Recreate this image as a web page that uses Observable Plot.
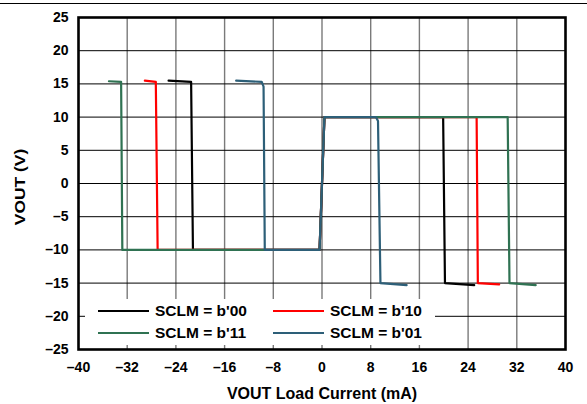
<!DOCTYPE html>
<html>
<head>
<meta charset="utf-8">
<script src="https://cdn.jsdelivr.net/npm/d3@7"></script>
<script src="https://cdn.jsdelivr.net/npm/@observablehq/plot@0.6"></script>
<style>
  html, body { margin: 0; padding: 0; background: #fff; }
  #wrap { position: relative; width: 587px; height: 404px; overflow: hidden; font-family: "Liberation Sans", Arial, sans-serif; }
  #toprule { position: absolute; left: 0; top: 2.5px; width: 587px; height: 1.5px; background: #000; }
  #ytitle { position: absolute; left: 20px; top: 187px; transform: translate(-50%, -50%) rotate(-90deg) scaleX(1.2); font-weight: bold; font-size: 14.5px; white-space: nowrap; color: #000; }
  #legend { position: absolute; left: 85px; top: 299px; width: 350px; height: 46px; background: #fff; }
  .item { position: absolute; height: 20px; display: flex; align-items: center; font-weight: bold; font-size: 15.5px; color: #000; white-space: nowrap; }
  .swatch { width: 51px; height: 2.5px; margin-right: 6px; }
</style>
</head>
<body>
<div id="wrap"><div id="toprule"></div></div>
<script>
// ---- Data ----
const seriesNames = ["SCLM = b'00", "SCLM = b'10", "SCLM = b'11", "SCLM = b'01"];
const seriesColors = ["#000000", "#ff0000", "#2f7252", "#2d5f78"];

const b00_x = [-25.2, -21.5, -21.2, -0.4, 0.4, 19.9, 20.2, 25.0];
const b00_y = [15.5, 15.3, -10.0, -10.0, 10.0, 10.0, -15.0, -15.3];

const b10_x = [-29.1, -27.3, -27.0, -0.4, 0.4, 25.4, 25.6, 29.1];
const b10_y = [15.5, 15.3, -10.0, -10.0, 10.0, 10.0, -15.0, -15.2];

const b11_x = [-35.0, -33.0, -32.8, -0.4, 0.4, 30.5, 30.8, 35.1];
const b11_y = [15.4, 15.3, -10.0, -10.0, 10.0, 10.0, -15.0, -15.3];

const b01_x = [-14.1, -9.9, -9.6, -9.4, -0.4, 0.4, 8.85, 9.2, 9.6, 13.9];
const b01_y = [15.5, 15.3, 14.6, -10.0, -10.0, 10.0, 10.0, 9.4, -15.0, -15.3];

const xTicks = [-40, -32, -24, -16, -8, 0, 8, 16, 24, 32, 40];
const yTicks = [-25, -20, -15, -10, -5, 0, 5, 10, 15, 20, 25];
const xTitle = "VOUT Load Current (mA)";
const yTitle = "VOUT (V)";

// ---- Build table ----
const seriesXY = [[b00_x, b00_y], [b10_x, b10_y], [b11_x, b11_y], [b01_x, b01_y]];
const rows = [];
seriesXY.forEach(([xs, ys], i) => xs.forEach((x, j) => rows.push({series: seriesNames[i], x, y: ys[j]})));

const fmt = d => d < 0 ? "\u2013" + Math.abs(d) : String(d);
const gridYInner = yTicks.filter(d => d > -25 && d < 25);
const gridXInner = xTicks.filter(d => d > -40 && d < 40);

const chart = Plot.plot({
  width: 587,
  height: 404,
  marginLeft: 78,
  marginRight: 22,
  marginTop: 17,
  marginBottom: 55,
  style: {fontFamily: "'Liberation Sans', Arial, sans-serif", fontWeight: "bold", color: "#000", background: "#fff"},
  x: {domain: [-40, 40]},
  y: {domain: [-25, 25]},
  color: {domain: seriesNames, range: seriesColors},
  marks: [
    Plot.ruleX(gridXInner, {stroke: "#7a7a7a", strokeWidth: 1.4}),
    Plot.ruleY(gridYInner, {stroke: "#000", strokeWidth: 1}),
    Plot.line(rows, {x: "x", y: "y", z: "series", stroke: "series", strokeWidth: 2.2, strokeLinejoin: "round"}),
    Plot.frame({stroke: "#000", strokeWidth: 2.6}),
    Plot.axisX(xTicks, {tickSize: 0, tickPadding: 13, tickFormat: fmt, fontSize: 14, fontWeight: "bold", label: null}),
    Plot.axisY(yTicks, {tickSize: 0, tickPadding: 10, tickFormat: fmt, fontSize: 14, fontWeight: "bold", label: null}),
    Plot.text([xTitle], {frameAnchor: "bottom", dy: 44, lineAnchor: "middle", textAnchor: "middle", text: d => d, fontSize: 16, fontWeight: "bold", fill: "#000"})
  ]
});

const wrap = document.getElementById("wrap");
chart.style.position = "absolute";
chart.style.left = "0px";
chart.style.top = "0px";
wrap.insertBefore(chart, wrap.firstChild);

// ---- Y axis title ----
const yt = document.createElement("div");
yt.id = "ytitle";
yt.textContent = yTitle;
wrap.appendChild(yt);

// ---- Legend (row-major, 2 columns) ----
const legend = document.createElement("div");
legend.id = "legend";
const legendOrder = [0, 1, 2, 3];
const colLeft = [13, 188];
const rowTop = [2, 24];
legendOrder.forEach((si, k) => {
  const item = document.createElement("div");
  item.className = "item";
  item.style.left = colLeft[k % 2] + "px";
  item.style.top = rowTop[Math.floor(k / 2)] + "px";
  const sw = document.createElement("div");
  sw.className = "swatch";
  sw.style.background = seriesColors[si];
  const lab = document.createElement("span");
  lab.textContent = seriesNames[si];
  item.appendChild(sw);
  item.appendChild(lab);
  legend.appendChild(item);
});
wrap.appendChild(legend);
</script>
</body>
</html>
